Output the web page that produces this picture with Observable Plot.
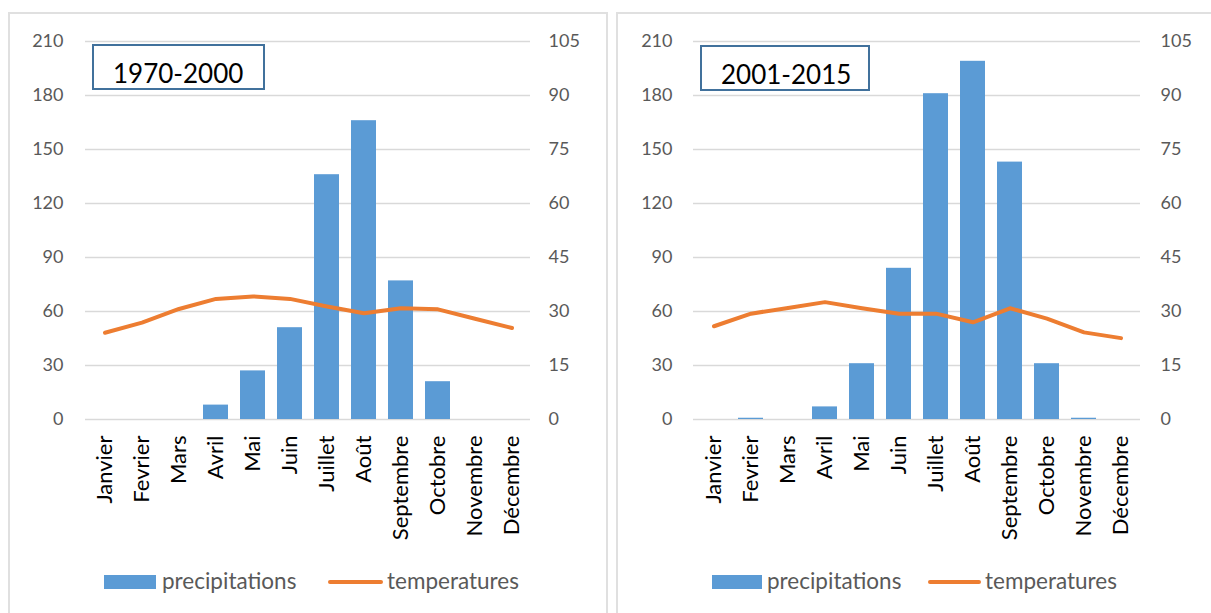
<!DOCTYPE html>
<html>
<head>
<meta charset="utf-8">
<script src="https://cdn.jsdelivr.net/npm/d3@7"></script>
<script src="https://cdn.jsdelivr.net/npm/@observablehq/plot@0.6"></script>
<style>
  html, body { margin: 0; padding: 0; background: #fff; }
  body { width: 1211px; height: 613px; overflow: hidden; position: relative; font-family: Lato, "Open Sans", sans-serif; }
  .panel { position: absolute; border: 2px solid #e0e0e0; box-sizing: border-box; }
  .chart { position: absolute; top: 0; }
  .title { position: absolute; border: 2px solid #41719c; box-sizing: border-box; font-size: 26px; color: #000; line-height: 1; }
  .title span { position: absolute; }
  .lg-rect { position: absolute; background: #5b9bd5; }
  .lg-line { position: absolute; background: #ed7d31; height: 4px; border-radius: 2px; }
  .lg-text { position: absolute; font-size: 22.5px; color: #595959; line-height: 1; white-space: nowrap; }
</style>
</head>
<body>
<div class="panel" style="left:8px;top:12px;width:600px;height:640px"></div>
<div class="panel" style="left:616px;top:12px;width:610px;height:640px"></div>
<div id="c1" class="chart" style="left:0px"></div>
<div id="c2" class="chart" style="left:608px"></div>
<script>
const months = ["Janvier","Fevrier","Mars","Avril","Mai","Juin","Juillet","Août","Septembre","Octobre","Novembre","Décembre"];
const precip1970 = [0, 0, 0, 8, 27, 51, 136, 166, 77, 21, 0, 0];
const temp1970 = [24.1, 26.9, 30.7, 33.5, 34.2, 33.5, 31.4, 29.5, 30.9, 30.6, 28.0, 25.4];
const precip2001 = [0, 0.7, 0, 7, 31, 84, 181, 199, 143, 31, 0.7, 0];
const temp2001 = [25.9, 29.4, 31.0, 32.6, 30.9, 29.4, 29.4, 27.0, 30.9, 28.0, 24.2, 22.6];
const precipTicks = [0, 30, 60, 90, 120, 150, 180, 210];
const tempTicks = [0, 15, 30, 45, 60, 75, 90, 105];
const titles = ["1970-2000", "2001-2015"];
const seriesNames = ["precipitations", "temperatures"];

const BLUE = "#5b9bd5", ORANGE = "#ed7d31", GRID = "#d9d9d9", AXIS = "#595959";

function makeChart(precip, temp, width, mLeft, mRight, padL, padR) {
  const data = months.map((m, i) => ({month: m, precip: precip[i], temp: temp[i]}));
  return Plot.plot({
    width, height: 613,
    marginLeft: mLeft, marginRight: mRight, marginTop: 41, marginBottom: 613 - 419,
    style: {fontFamily: "Lato, 'Open Sans', sans-serif", background: "transparent", overflow: "visible"},
    x: {type: "band", domain: months, paddingInner: 1/3, paddingOuter: 1/6, label: null},
    y: {domain: [0, 210], label: null},
    marks: [
      Plot.ruleY(precipTicks, {stroke: GRID, strokeWidth: 1.4}),
      Plot.barY(data, {x: "month", y: "precip", fill: BLUE}),
      Plot.line(data, {x: "month", y: d => d.temp * 2, stroke: ORANGE, strokeWidth: 4, strokeLinecap: "round", strokeLinejoin: "round"}),
      Plot.axisY(precipTicks, {anchor: "left", tickSize: 0, tickPadding: padL, fontSize: 18, color: AXIS, label: null}),
      Plot.axisY(tempTicks.map(t => t * 2), {anchor: "right", tickSize: 0, tickPadding: padR, fontSize: 18, color: AXIS, tickFormat: d => String(d / 2), label: null}),
      Plot.axisX({tickRotate: -90, tickSize: 0, tickPadding: 16, fontSize: 22, color: "#000", label: null})
    ]
  });
}

document.getElementById("c1").append(makeChart(precip1970, temp1970, 607, 85, 77, 22, 18));
document.getElementById("c2").append(makeChart(precip2001, temp2001, 603, 85, 71, 21, 20));

function addDiv(cls, style, text) {
  const d = document.createElement("div");
  d.className = cls;
  Object.assign(d.style, style);
  if (text !== undefined) d.textContent = text;
  document.body.append(d);
  return d;
}
// title boxes
const tb1 = addDiv("title", {left: "92px", top: "44px", width: "173px", height: "46px"});
tb1.innerHTML = `<span style="left:19px;top:14px">${titles[0]}</span>`;
const tb2 = addDiv("title", {left: "700px", top: "45px", width: "170px", height: "46px"});
tb2.innerHTML = `<span style="left:19px;top:14px">${titles[1]}</span>`;

// legends
function legend(rx, rw, tx, lx, lw, t2x) {
  addDiv("lg-rect", {left: rx + "px", top: "575px", width: rw + "px", height: "14px"});
  addDiv("lg-text", {left: tx + "px", top: "570px"}, seriesNames[0]);
  addDiv("lg-line", {left: lx + "px", top: "580px", width: lw + "px"});
  addDiv("lg-text", {left: t2x + "px", top: "570px"}, seriesNames[1]);
}
legend(104, 52, 162, 328, 55, 387);
legend(712, 50, 767, 928, 53, 985);
</script>
</body>
</html>
